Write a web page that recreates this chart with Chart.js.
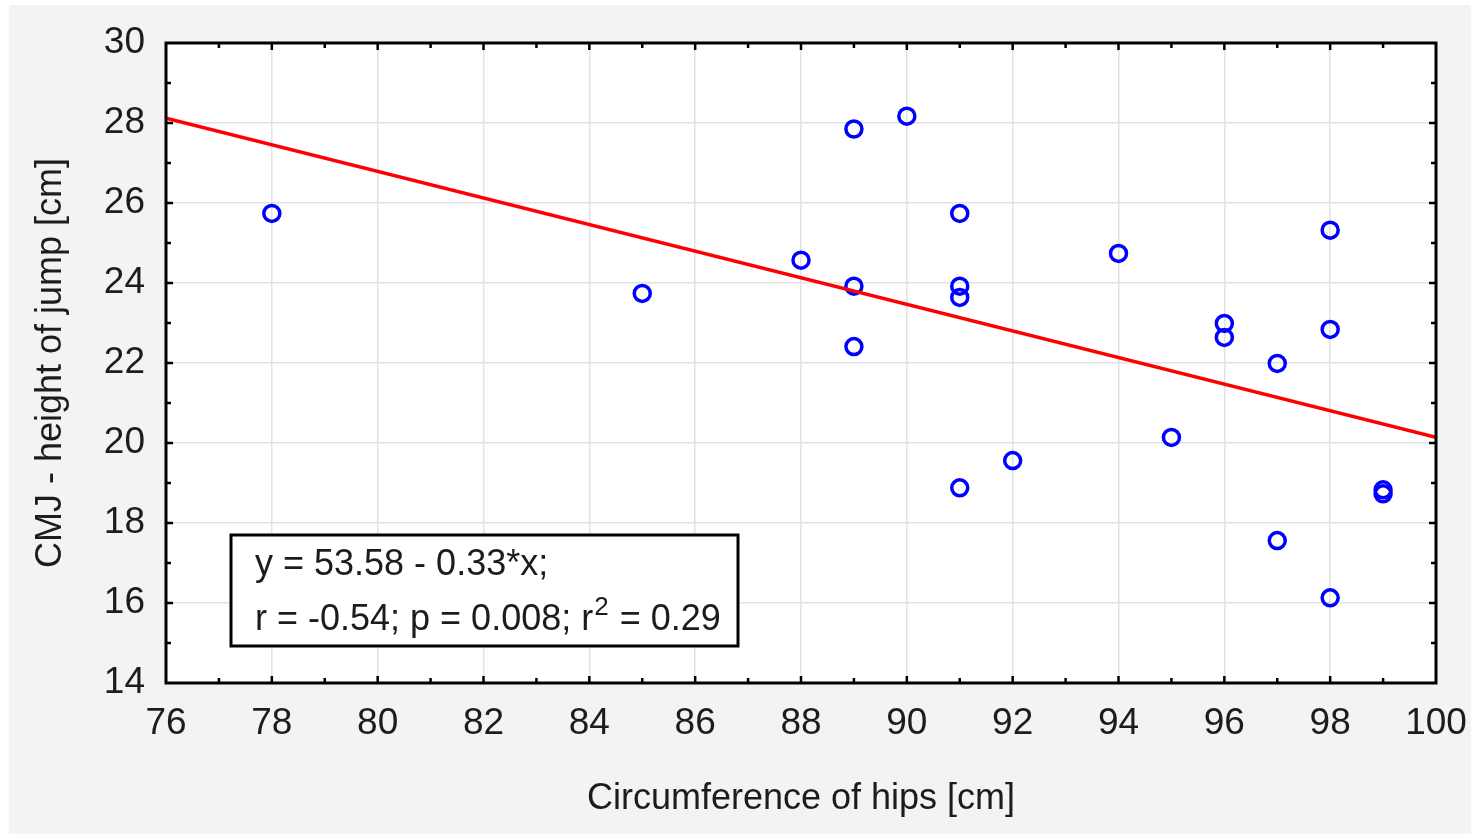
<!DOCTYPE html>
<html>
<head>
<meta charset="utf-8">
<script src="https://cdn.jsdelivr.net/npm/chart.js@4.4.1/dist/chart.umd.min.js"></script>
<style>
  html, body { margin: 0; padding: 0; background: #ffffff; }
  #frame { position: absolute; left: 9px; top: 5px; width: 1462px; height: 829px; background: #f3f3f3; }
</style>
</head>
<body>
<div id="frame"><canvas id="chart" width="1462" height="829"></canvas></div>
<script>
// hip circumference [cm] vs CMJ jump height [cm]
var hipCircumference = [78, 85, 88, 89, 89, 89, 90, 91, 91, 91, 91, 92, 94, 95, 96, 96, 97, 97, 98, 98, 98, 99, 99];
var jumpHeight = [25.74, 23.74, 24.57, 27.85, 23.92, 22.41, 28.17, 25.74, 23.92, 23.64, 18.88, 19.56, 24.74, 20.14, 22.99, 22.64, 21.99, 17.56, 25.32, 22.84, 16.13, 18.83, 18.73];

// regression line end points
var fitX = [76, 100];
var fitY = [28.12, 20.14];

var xRange = [76, 100];
var yRange = [14, 30];

var statLines = ['y = 53.58 - 0.33*x;', 'r = -0.54; p = 0.008; r', '2', ' = 0.29'];

var FONT = '"Liberation Sans", Arial, Helvetica, sans-serif';
var TEXT = '#1c1c1c';

var points = hipCircumference.map(function (x, i) { return { x: x, y: jumpHeight[i] }; });
var fitLine = fitX.map(function (x, i) { return { x: x, y: fitY[i] }; });

function majorGrid(ctx) {
    return ctx.tick && ctx.tick.value % 2 === 0 ? '#e2e2e2' : 'rgba(0,0,0,0)';
}

var framePlugin = {
    id: 'frame',
    beforeDraw: function (chart) {
        var a = chart.chartArea, c = chart.ctx;
        c.save();
        c.fillStyle = '#ffffff';
        c.fillRect(a.left, a.top, a.right - a.left, a.bottom - a.top);
        c.restore();
    },
    afterDraw: function (chart) {
        var a = chart.chartArea, c = chart.ctx;
        var xs = chart.scales.x, ys = chart.scales.y;
        c.save();
        // inward tick marks on all four sides
        c.strokeStyle = '#000';
        c.lineWidth = 2.5;
        c.beginPath();
        for (var v = xRange[0] + 1; v < xRange[1]; v++) {
            var px = xs.getPixelForValue(v);
            var len = v % 2 === 0 ? 7 : 5;
            c.moveTo(px, a.bottom); c.lineTo(px, a.bottom - len);
            c.moveTo(px, a.top); c.lineTo(px, a.top + len);
        }
        for (var w = yRange[0] + 1; w < yRange[1]; w++) {
            var py = ys.getPixelForValue(w);
            var l2 = w % 2 === 0 ? 7 : 5;
            c.moveTo(a.left, py); c.lineTo(a.left + l2, py);
            c.moveTo(a.right, py); c.lineTo(a.right - l2, py);
        }
        c.stroke();
        // plot border
        c.lineWidth = 3;
        c.strokeRect(a.left, a.top, a.right - a.left, a.bottom - a.top);

        // regression statistics box
        var bx = a.left + 65, by = a.top + 492, bw = 507, bh = 111;
        c.fillStyle = '#ffffff';
        c.fillRect(bx, by, bw, bh);
        c.lineWidth = 3;
        c.strokeRect(bx, by, bw, bh);
        c.fillStyle = TEXT;
        c.textBaseline = 'alphabetic';
        c.textAlign = 'left';
        c.font = '36px ' + FONT;
        var tx = bx + 24;
        c.fillText(statLines[0], tx, by + 40);
        c.fillText(statLines[1], tx, by + 95);
        var w1 = c.measureText(statLines[1]).width;
        c.font = '26px ' + FONT;
        c.fillText(statLines[2], tx + w1 + 1, by + 80);
        var w2 = c.measureText(statLines[2]).width;
        c.font = '36px ' + FONT;
        c.fillText(statLines[3], tx + w1 + w2 + 2, by + 95);
        c.restore();
    }
};

var config = {
    type: 'scatter',
    data: {
        datasets: [{
            type: 'line',
            data: fitLine,
            borderColor: '#ff0000',
            borderWidth: 3.5,
            pointRadius: 0,
            fill: false,
            order: 0
        }, {
            data: points,
            pointStyle: 'circle',
            pointRadius: 8,
            pointBorderWidth: 3.5,
            pointBorderColor: '#0000ff',
            pointBackgroundColor: 'rgba(0,0,0,0)',
            order: 1
        }]
    },
    options: {
        responsive: false,
        animation: false,
        layout: { padding: { left: 0, top: 38, right: 35, bottom: 0 } },
        plugins: {
            legend: { display: false },
            tooltip: { enabled: false },
            title: { display: false }
        },
        scales: {
            x: {
                type: 'linear',
                min: xRange[0],
                max: xRange[1],
                afterFit: function (s) {
                    s.height = 151;
                    s.paddingLeft = 0;
                    s.paddingRight = 0;
                },
                ticks: {
                    stepSize: 1,
                    autoSkip: false,
                    maxRotation: 0,
                    padding: 19,
                    color: TEXT,
                    font: { family: FONT, size: 37 },
                    callback: function (v) { return v % 2 === 0 ? String(v) : ''; }
                },
                grid: { color: majorGrid, lineWidth: 1.5, drawTicks: false },
                border: { display: false },
                title: {
                    display: true,
                    text: 'Circumference of hips [cm]',
                    color: TEXT,
                    font: { family: FONT, size: 36 },
                    padding: { top: 0, bottom: 13 }
                }
            },
            y: {
                type: 'linear',
                min: yRange[0],
                max: yRange[1],
                afterFit: function (s) {
                    s.width = 157;
                    s.paddingTop = 0;
                    s.paddingBottom = 0;
                },
                ticks: {
                    stepSize: 1,
                    autoSkip: false,
                    padding: 21,
                    color: TEXT,
                    font: { family: FONT, size: 37 },
                    callback: function (v) { return v % 2 === 0 ? String(v) : ''; }
                },
                grid: { color: majorGrid, lineWidth: 1.5, drawTicks: false },
                border: { display: false },
                title: {
                    display: true,
                    text: 'CMJ - height of jump [cm]',
                    color: TEXT,
                    font: { family: FONT, size: 36 },
                    padding: { top: 20, bottom: 0 }
                }
            }
        }
    },
    plugins: [framePlugin]
};

var ctx = document.getElementById('chart').getContext('2d');
new Chart(ctx, config);
</script>
</body>
</html>
